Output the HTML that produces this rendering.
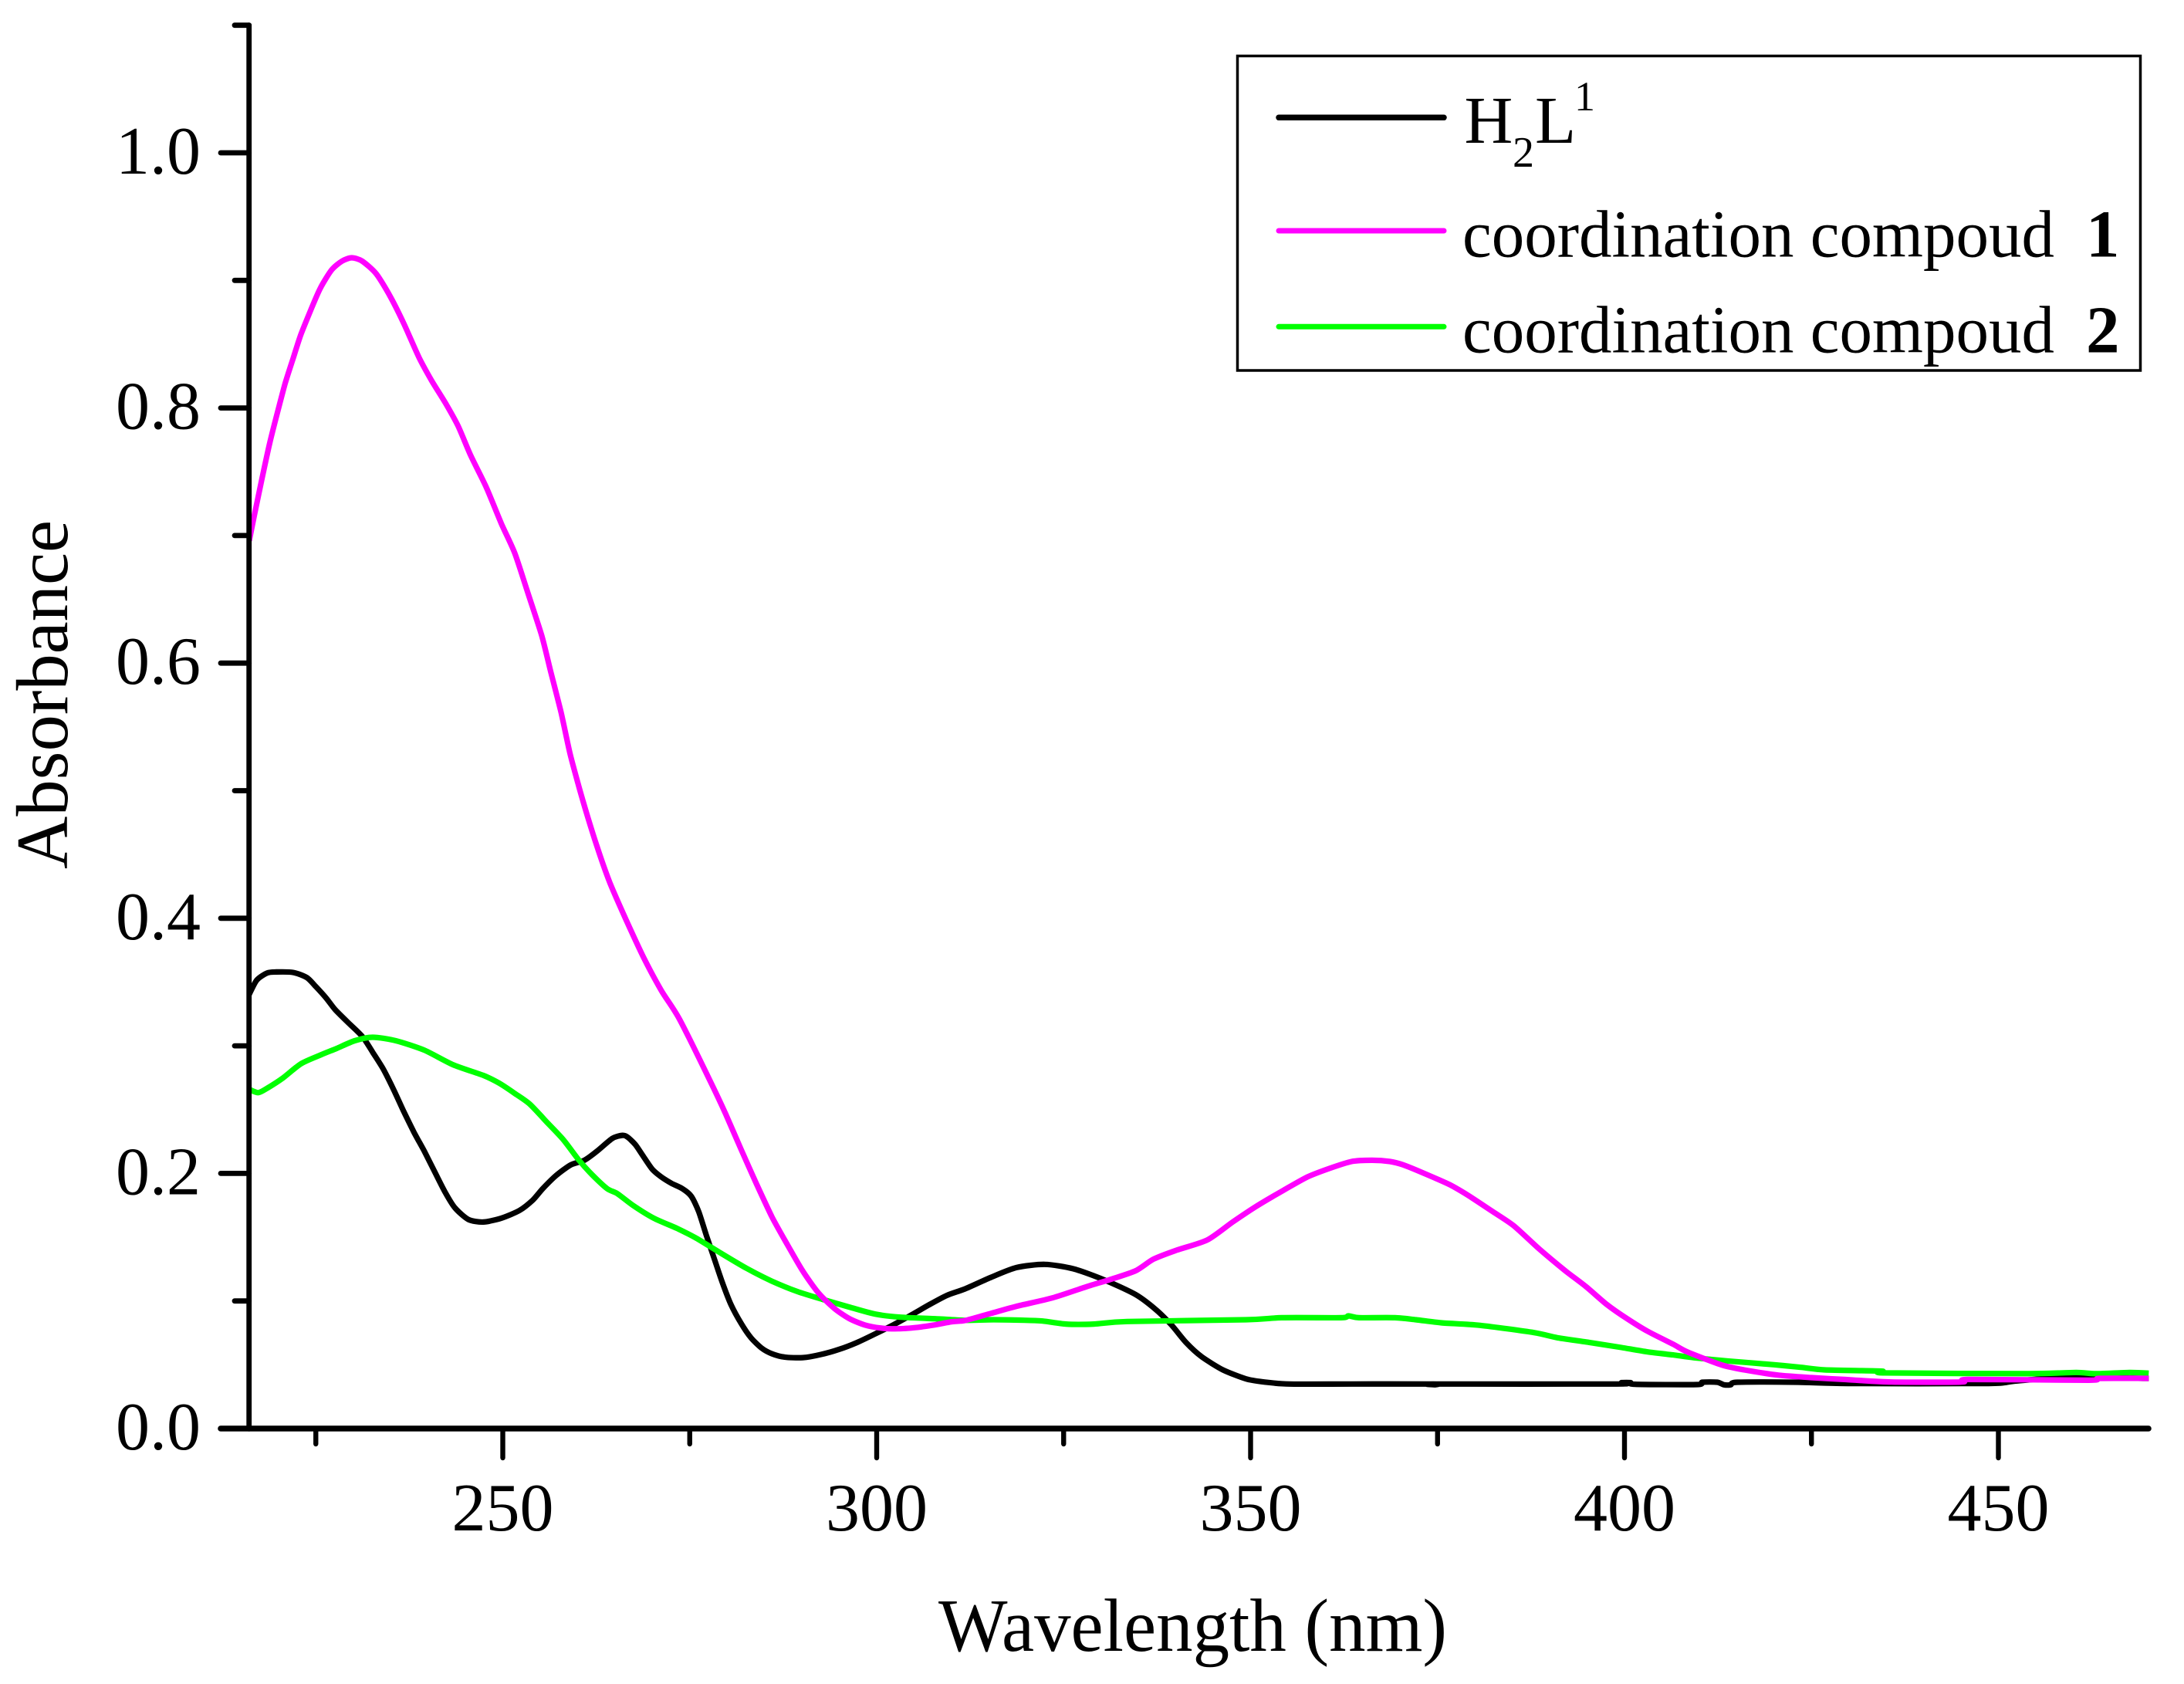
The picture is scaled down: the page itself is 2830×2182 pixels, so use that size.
<!DOCTYPE html>
<html lang="en">
<head>
<meta charset="utf-8">
<title>Absorbance spectra</title>
<style>
html,body{margin:0;padding:0;background:#fff;}
svg{display:block;}
text{font-family:"Liberation Serif","Times New Roman",serif;fill:#000;}
</style>
</head>
<body>
<svg id="chart" xmlns="http://www.w3.org/2000/svg" width="2830" height="2182" viewBox="0 0 2830 2182">
  <rect x="0" y="0" width="2830" height="2182" fill="#fff"/>
  <g id="series"></g>
  <g id="axes"></g>
  <text x="1216" y="2139" font-size="97" textLength="659" lengthAdjust="spacingAndGlyphs">Wavelength (nm)</text>
  <text transform="translate(87 1126) rotate(-90)" x="0" y="0" font-size="95" textLength="452" lengthAdjust="spacingAndGlyphs">Absorbance</text>
  <g>
    <rect x="1603.5" y="72.5" width="1170" height="407.5" fill="#fff" stroke="#000" stroke-width="3.5"/>
    <line x1="1657" y1="152.3" x2="1871" y2="152.3" stroke="#000" stroke-width="7.5" stroke-linecap="round"/>
    <text x="1897.5" y="185" font-size="87">H</text>
    <text x="1960" y="216" font-size="56">2</text>
    <text x="1989" y="185" font-size="87">L</text>
    <text x="2040" y="143" font-size="54">1</text>
    <line x1="1657" y1="299" x2="1871" y2="299" stroke="#ff00ff" stroke-width="7" stroke-linecap="round"/>
    <text x="1895" y="332.7" font-size="87" textLength="767" lengthAdjust="spacingAndGlyphs">coordination compoud</text>
    <text x="2703" y="332.7" font-size="87" font-weight="bold">1</text>
    <line x1="1657" y1="423.3" x2="1871" y2="423.3" stroke="#00ff00" stroke-width="7" stroke-linecap="round"/>
    <text x="1895" y="456.7" font-size="87" textLength="767" lengthAdjust="spacingAndGlyphs">coordination compoud</text>
    <text x="2703" y="456.7" font-size="87" font-weight="bold">2</text>
  </g>
</svg>
<script>
var xTickMajor = [250, 300, 350, 400, 450];
var xTickMinor = [225, 275, 325, 375, 425];
var yTickMajor = [0.0, 0.2, 0.4, 0.6, 0.8, 1.0];
var yTickMinor = [0.1, 0.3, 0.5, 0.7, 0.9, 1.1];
var xTickLabels = ["250", "300", "350", "400", "450"];
var yTickLabels = ["0.0", "0.2", "0.4", "0.6", "0.8", "1.0"];

var h2l1Wavelength = [216.1,217.1,218.5,219.7,222.0,223.8,225.0,226.4,227.6,229.5,231.25,232.6,234.0,235.4,236.75,238.1,239.5,240.9,242.3,243.6,245.4,247.4,249.8,252.25,254.0,255.35,257.1,259.1,260.9,262.6,264.65,266.0,266.7,267.75,268.8,270.0,271.2,272.6,274.0,275.2,276.2,277.2,278.25,279.3,280.5,281.9,283.2,284.6,286.0,287.7,290.1,292.5,295.0,297.4,299.8,302.2,304.6,307.0,309.4,311.83,315.3,318.7,322.5,326.3,330.4,334.6,337.3,339.4,341.4,343.5,346.3,349.4,351.8,355.2,363.5,374.4,374.7,375.0,398.9,399.6,400.8,401.4,409.7,410.4,412.4,413.3,414.2,415.1,423.2,429.9,448.7,452,458.6,470.1];
var h2l1Absorbance = [0.3404,0.3515,0.3571,0.3579,0.3575,0.3535,0.3464,0.3373,0.3283,0.3172,0.3071,0.295,0.2819,0.2657,0.2486,0.2325,0.2174,0.2012,0.1851,0.173,0.1639,0.1619,0.1649,0.171,0.179,0.1881,0.1982,0.2067,0.2103,0.2174,0.2274,0.2298,0.2284,0.2224,0.2133,0.2032,0.1972,0.1921,0.1881,0.1821,0.17,0.1518,0.1337,0.1155,0.0974,0.0822,0.0711,0.0631,0.0586,0.056,0.0556,0.058,0.0621,0.0675,0.0742,0.0812,0.0889,0.097,0.1044,0.1095,0.1186,0.1262,0.1287,0.1252,0.1166,0.1051,0.0934,0.0813,0.0672,0.0561,0.046,0.0389,0.0365,0.0349,0.0349,0.0349,0.0343,0.0349,0.0349,0.036,0.036,0.0347,0.0345,0.0363,0.0363,0.0343,0.0343,0.0363,0.0363,0.0353,0.0353,0.037,0.0399,0.0393];

var compound1Wavelength = [216.1,216.8,217.8,218.85,219.9,220.9,222.0,223.0,224.4,225.6,227.1,228.5,229.8,231.2,233.1,235.0,236.8,238.8,240.5,242.3,244.0,245.7,247.8,249.8,251.6,253.3,255.2,256.4,257.8,259.0,260.2,261.2,262.6,264.3,266.4,268.8,271.2,273.6,277.7,279.8,281.9,283.9,286.0,288.1,290.1,292.2,294.3,296.3,298.4,300.5,302.9,305.3,307.7,310.1,311.83,315.3,318.7,323.5,328.0,331.1,334.6,337.0,340.1,344.2,347.6,350.7,354.5,357.6,360.5,363.5,366.2,368.65,370.4,373.1,376.6,379.0,382.4,385.2,388.6,392.1,394.8,397.6,400.3,403.1,406.5,408.4,412.9,416.0,420.5,425.0,429.4,435.7,445.1,446.0,462.1,463.5,470.1];
var compound1Absorbance = [0.696,0.7165,0.7447,0.7729,0.7971,0.8193,0.8395,0.8576,0.8778,0.8939,0.9081,0.9151,0.9177,0.9151,0.905,0.8869,0.8657,0.8395,0.8213,0.8042,0.7861,0.7629,0.7377,0.7094,0.6862,0.656,0.6217,0.5935,0.5612,0.5289,0.5027,0.4825,0.4563,0.4281,0.3999,0.3696,0.3434,0.3212,0.2728,0.2466,0.2184,0.1921,0.1659,0.1437,0.1236,0.1064,0.0943,0.0863,0.0812,0.0788,0.0782,0.0792,0.0812,0.0838,0.0847,0.0903,0.0958,0.1024,0.1111,0.1166,0.1236,0.1327,0.1398,0.1478,0.1619,0.174,0.1871,0.1972,0.2038,0.2093,0.2103,0.2093,0.2067,0.2003,0.1912,0.1831,0.17,0.1589,0.1408,0.1236,0.1115,0.0974,0.0863,0.0762,0.0661,0.0601,0.05,0.046,0.0419,0.0399,0.0385,0.0365,0.0365,0.0385,0.0379,0.0393,0.0393];

var compound2Wavelength = [216.1,217.3,218.5,220.6,223.0,225.7,227.8,230.2,232.6,235.7,239.5,243.3,247.4,249.5,251.6,253.6,256.0,258.1,260.2,261.9,263.95,265.34,267.4,270.2,273.3,275.7,279.1,282.6,286.0,289.4,292.9,296.3,299.8,303.2,308.4,311.83,315.6,319.75,322.2,325.3,329.05,333.5,349.4,354.2,362.1,363.1,364.5,369.3,372.1,375.5,380.7,387.9,391.0,395.2,399.6,403.1,406.5,409.3,413.8,420.0,423.6,426.8,434.4,434.8,454.1,460.4,463.0,467.5,470.1];
var compound2Absorbance = [0.2658,0.2633,0.2668,0.2748,0.2859,0.293,0.298,0.304,0.3067,0.304,0.2966,0.2853,0.2768,0.2708,0.2627,0.2543,0.2395,0.2264,0.2103,0.1992,0.1881,0.1841,0.175,0.1649,0.1569,0.1498,0.1377,0.1256,0.1155,0.1074,0.101,0.0953,0.0897,0.0873,0.0859,0.0848,0.0853,0.0849,0.0843,0.0819,0.0819,0.0839,0.0853,0.0869,0.0869,0.0883,0.0869,0.0869,0.0853,0.0829,0.0809,0.0752,0.0712,0.0676,0.0635,0.0601,0.0577,0.0555,0.053,0.05,0.048,0.046,0.045,0.0436,0.043,0.044,0.043,0.044,0.0434];

function xScale(w) { return 651.5 + (w - 250) * 9.69; }
function yScale(a) { return 1851 - a * 1653; }

var SVG_NS = "http://www.w3.org/2000/svg";
var axesGroup = document.getElementById("axes");
var seriesGroup = document.getElementById("series");

function drawSeries(wavelengths, values, color, name) {
  var pts = [];
  for (var i = 0; i < wavelengths.length; i++) {
    pts.push([xScale(wavelengths[i]), yScale(values[i])]);
  }
  var d = "M" + pts[0][0].toFixed(1) + " " + pts[0][1].toFixed(1);
  for (var j = 0; j < pts.length - 1; j++) {
    var p0 = pts[Math.max(j - 1, 0)];
    var p1 = pts[j];
    var p2 = pts[j + 1];
    var p3 = pts[Math.min(j + 2, pts.length - 1)];
    var c1x = p1[0] + (p2[0] - p0[0]) / 8;
    var c1y = p1[1] + (p2[1] - p0[1]) / 8;
    var c2x = p2[0] - (p3[0] - p1[0]) / 8;
    var c2y = p2[1] - (p3[1] - p1[1]) / 8;
    d += "C" + c1x.toFixed(1) + " " + c1y.toFixed(1) + " " + c2x.toFixed(1) + " " + c2y.toFixed(1) + " " + p2[0].toFixed(1) + " " + p2[1].toFixed(1);
  }
  var line = document.createElementNS(SVG_NS, "path");
  line.setAttribute("d", d);
  line.setAttribute("fill", "none");
  line.setAttribute("stroke", color);
  line.setAttribute("stroke-width", "7.2");
  line.setAttribute("stroke-linejoin", "round");
  
  
  seriesGroup.appendChild(line);
}
drawSeries(h2l1Wavelength, h2l1Absorbance, "#000000", "series-h2l1");
drawSeries(compound2Wavelength, compound2Absorbance, "#00ff00", "series-compound-2");
drawSeries(compound1Wavelength, compound1Absorbance, "#ff00ff", "series-compound-1");

function drawLine(x1, y1, x2, y2, width, name) {
  var l = document.createElementNS(SVG_NS, "line");
  l.setAttribute("x1", x1);
  l.setAttribute("y1", y1);
  l.setAttribute("x2", x2);
  l.setAttribute("y2", y2);
  l.setAttribute("stroke", "#000");
  l.setAttribute("stroke-width", width);
  l.setAttribute("stroke-linecap", "round");
  
  
  axesGroup.appendChild(l);
}
function drawText(x, y, label, anchor, name) {
  var t = document.createElementNS(SVG_NS, "text");
  t.setAttribute("x", x);
  t.setAttribute("y", y);
  t.setAttribute("font-size", "88");
  t.setAttribute("text-anchor", anchor);
  t.textContent = label;
  
  
  axesGroup.appendChild(t);
}

var yAxisLeft = 322.7;
var xAxisBottom = yScale(0);
drawLine(yAxisLeft, yScale(1.1), yAxisLeft, xAxisBottom, 6.8, "y-axis-line");
drawLine(yAxisLeft, xAxisBottom, 2784, xAxisBottom, 7.6, "x-axis-line");

xTickMajor.forEach(function (v, i) {
  drawLine(xScale(v), xAxisBottom, xScale(v), 1889, 6.4, "x-tick-major");
  drawText(xScale(v), 1983, xTickLabels[i], "middle", "x-tick-label");
});
xTickMinor.forEach(function (v) {
  drawLine(xScale(v), xAxisBottom, xScale(v), 1871, 6.4, "x-tick-minor");
});
yTickMajor.forEach(function (v, i) {
  drawLine(yAxisLeft, yScale(v), 286, yScale(v), v === 0 ? 7.6 : 6.8, "y-tick-major");
  drawText(260, yScale(v) + 27, yTickLabels[i], "end", "y-tick-label");
});
yTickMinor.forEach(function (v) {
  drawLine(yAxisLeft, yScale(v), 304, yScale(v), 6.8, "y-tick-minor");
});
</script>
</body>
</html>
